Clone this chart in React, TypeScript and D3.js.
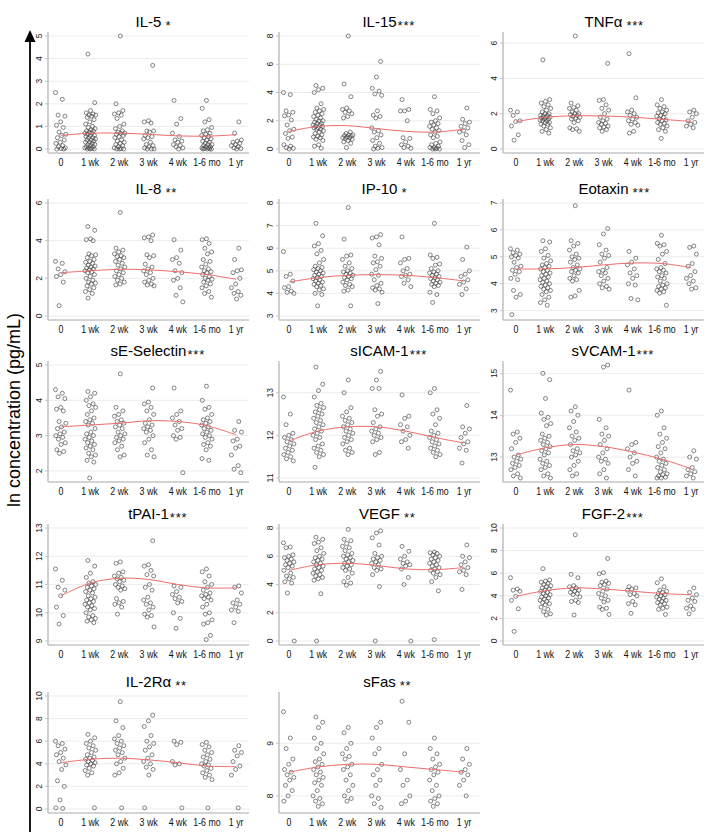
import React from 'react';
import * as d3 from 'd3';

const CATEGORIES = ["0", "1 wk", "2 wk", "3 wk", "4 wk", "1-6 mo", "1 yr"];
const NAMES = ["IL-5", "IL-15", "TNFα", "IL-8", "IP-10", "Eotaxin", "sE-Selectin", "sICAM-1", "sVCAM-1", "tPAI-1", "VEGF", "FGF-2", "IL-2Rα", "sFas"];
const STARS = ["*", "***", "***", "**", "*", "***", "***", "***", "***", "***", "**", "***", "**", "**"];
const STAR_GAP = [1, 0, 1, 1, 1, 1, 0, 0, 0, 0, 1, 0, 1, 1];
const Y_DOMAINS = [[0, 5], [0, 8], [0, 6.4], [0, 6], [3, 8], [2.8, 7], [1.8, 5], [11, 13.65], [12.5, 15.2], [9, 13], [0, 8], [0, 10], [0, 10], [7.75, 9.9]];
const Y_TICKS = [[0, 1, 2, 3, 4, 5], [0, 2, 4, 6, 8], [0, 2, 4, 6], [0, 2, 4, 6], [3, 4, 5, 6, 7, 8], [3, 4, 5, 6, 7], [2, 3, 4, 5], [11, 12, 13], [13, 14, 15], [9, 10, 11, 12, 13], [0, 2, 4, 6, 8], [0, 2, 4, 6, 8, 10], [0, 2, 4, 6, 8, 10], [8, 9]];

const il5 = [
  [2.5, 2.2, 1.5, 1.45, 1.2, 1.05, 0.95, 0.75, 0.65, 0.6, 0.5, 0.4, 0.3, 0.25, 0.15, 0.1, 0.05, 0.02, 0, 0],
  [4.2, 2.05, 1.7, 1.6, 1.55, 1.5, 1.5, 1.45, 1.4, 1.3, 1.2, 1.1, 1.0, 0.95, 0.9, 0.85, 0.8, 0.8, 0.75, 0.7, 0.7, 0.65, 0.6, 0.6, 0.55, 0.5, 0.5, 0.45, 0.4, 0.4, 0.35, 0.3, 0.3, 0.25, 0.2, 0.2, 0.15, 0.1, 0.1, 0.05, 0.05, 0.02, 0, 0, 0],
  [5.0, 2.0, 1.7, 1.6, 1.55, 1.5, 1.35, 1.1, 1.0, 0.9, 0.8, 0.75, 0.7, 0.7, 0.65, 0.6, 0.55, 0.5, 0.4, 0.35, 0.3, 0.25, 0.2, 0.15, 0.1, 0.05, 0.02, 0, 0, 0],
  [3.7, 1.25, 1.2, 1.15, 0.8, 0.8, 0.75, 0.6, 0.55, 0.5, 0.45, 0.3, 0.2, 0.15, 0.1, 0.05, 0, 0, 0],
  [2.15, 1.35, 1.1, 0.7, 0.55, 0.4, 0.35, 0.3, 0.2, 0.15, 0.1, 0.05, 0],
  [2.15, 1.8, 1.3, 1.2, 0.95, 0.85, 0.8, 0.7, 0.65, 0.6, 0.55, 0.5, 0.45, 0.4, 0.35, 0.3, 0.25, 0.2, 0.2, 0.15, 0.1, 0.1, 0.05, 0.05, 0.02, 0, 0, 0, 0],
  [1.2, 0.7, 0.4, 0.35, 0.3, 0.25, 0.2, 0.15, 0.1, 0.05, 0.02, 0],
];
const il5Fit = [0.6, 0.7, 0.7, 0.65, 0.58, 0.57, 0.63];

const il15 = [
  [4.0, 3.85, 2.7, 2.6, 2.4, 2.35, 2.05, 1.7, 1.4, 1.3, 1.1, 0.85, 0.75, 0.3, 0.2, 0.1, 0.05, 0],
  [4.5, 4.3, 4.2, 4.0, 3.2, 2.9, 2.8, 2.7, 2.6, 2.5, 2.4, 2.3, 2.2, 2.1, 2.0, 2.0, 1.9, 1.8, 1.8, 1.7, 1.7, 1.6, 1.6, 1.5, 1.5, 1.4, 1.4, 1.3, 1.2, 1.1, 1.0, 0.9, 0.85, 0.8, 0.7, 0.6, 0.3, 0.2, 0.05],
  [8.0, 4.6, 3.7, 2.9, 2.8, 2.7, 2.6, 2.5, 2.3, 2.2, 1.2, 1.1, 1.0, 1.0, 0.95, 0.9, 0.85, 0.8, 0.8, 0.75, 0.7, 0.6, 0.5, 0.4, 0.1],
  [6.2, 5.1, 4.3, 4.1, 3.9, 3.8, 2.7, 2.4, 2.3, 2.2, 1.5, 1.3, 1.2, 1.0, 0.8, 0.6, 0.4, 0.2, 0.1, 0.05, 0],
  [3.5, 2.8, 2.7, 2.7, 2.0, 0.8, 0.75, 0.5, 0.3, 0.2, 0.1, 0.05],
  [3.7, 2.8, 2.7, 2.5, 2.2, 2.0, 1.9, 1.8, 1.7, 1.6, 1.5, 1.4, 1.3, 1.2, 1.0, 0.9, 0.8, 0.5, 0.4, 0.3, 0.2, 0.1, 0.1, 0.05, 0, 0, 0],
  [2.9, 2.1, 1.9, 1.8, 1.6, 1.5, 1.3, 1.2, 1.0, 0.6, 0.3, 0.1],
];
const il15Fit = [1.25, 1.6, 1.65, 1.45, 1.25, 1.2, 1.4];

const tnfa = [
  [2.2, 2.1, 1.9, 1.6, 1.55, 1.3, 0.8, 0.5],
  [5.05, 2.8, 2.7, 2.6, 2.5, 2.4, 2.3, 2.2, 2.1, 2.0, 2.0, 1.9, 1.9, 1.85, 1.8, 1.8, 1.75, 1.7, 1.7, 1.65, 1.6, 1.6, 1.5, 1.5, 1.4, 1.4, 1.3, 1.2, 1.1, 1.0, 0.9],
  [6.4, 2.6, 2.45, 2.35, 2.3, 2.2, 2.1, 2.0, 2.0, 1.95, 1.9, 1.85, 1.8, 1.75, 1.7, 1.6, 1.5, 1.2, 1.15, 1.1, 1.0],
  [4.85, 2.8, 2.75, 2.5, 2.3, 2.2, 2.0, 1.8, 1.7, 1.6, 1.5, 1.45, 1.4, 1.3, 1.25, 1.2, 1.1, 1.0],
  [5.4, 2.9, 2.2, 2.1, 2.0, 1.9, 1.8, 1.7, 1.6, 1.5, 1.4, 1.35, 1.0, 0.9],
  [2.8, 2.5, 2.4, 2.3, 2.2, 2.1, 2.05, 2.0, 1.9, 1.85, 1.8, 1.7, 1.65, 1.6, 1.5, 1.45, 1.4, 1.3, 1.2, 1.1, 1.0, 0.6],
  [2.2, 2.1, 2.0, 1.8, 1.6, 1.5, 1.4, 1.3, 1.2],
];
const tnfaFit = [1.55, 1.8, 1.88, 1.87, 1.8, 1.68, 1.56];

const il8 = [
  [2.9, 2.8, 2.5, 2.35, 2.2, 2.1, 1.8, 0.55],
  [4.75, 4.55, 4.1, 4.05, 4.0, 3.3, 3.25, 3.2, 3.1, 3.0, 2.9, 2.85, 2.8, 2.7, 2.65, 2.6, 2.55, 2.5, 2.45, 2.4, 2.35, 2.3, 2.2, 2.1, 2.0, 1.9, 1.8, 1.75, 1.7, 1.6, 1.5, 1.4, 1.3, 1.2, 0.95],
  [5.5, 3.6, 3.5, 3.4, 3.3, 3.2, 3.15, 3.1, 3.0, 2.9, 2.8, 2.7, 2.6, 2.5, 2.4, 2.3, 2.2, 2.1, 2.0, 1.9, 1.8, 1.7, 1.65],
  [4.3, 4.2, 4.15, 4.0, 3.25, 3.2, 3.1, 2.75, 2.6, 2.5, 2.4, 2.3, 2.2, 2.0, 1.9, 1.8, 1.7, 1.65, 1.6],
  [4.05, 3.5, 3.1, 3.0, 2.8, 2.4, 2.3, 2.0, 1.9, 1.5, 1.1, 0.75],
  [4.1, 4.05, 3.85, 3.6, 3.4, 3.3, 3.0, 2.9, 2.75, 2.6, 2.5, 2.4, 2.35, 2.3, 2.2, 2.1, 2.0, 1.95, 1.9, 1.8, 1.7, 1.6, 1.5, 1.3, 1.2, 1.0],
  [3.6, 3.0, 2.45, 2.4, 2.3, 2.0, 1.7, 1.5, 1.3, 1.2, 1.1, 0.9],
];
const il8Fit = [2.3, 2.4, 2.48, 2.45, 2.35, 2.2, 1.95];

const ip10 = [
  [5.85, 4.85, 4.75, 4.55, 4.3, 4.25, 4.1, 4.05, 4.0],
  [7.1, 6.55, 6.2, 6.1, 5.9, 5.75, 5.5, 5.35, 5.2, 5.15, 5.1, 5.05, 5.0, 4.95, 4.9, 4.85, 4.8, 4.75, 4.7, 4.65, 4.6, 4.55, 4.5, 4.45, 4.4, 4.35, 4.3, 4.2, 4.15, 4.0, 3.95, 3.45],
  [7.8, 6.4, 5.7, 5.65, 5.5, 5.35, 5.2, 5.1, 5.0, 4.95, 4.9, 4.85, 4.8, 4.75, 4.7, 4.65, 4.6, 4.5, 4.4, 4.35, 4.3, 4.15, 4.1, 3.45],
  [6.6, 6.5, 6.45, 6.15, 5.65, 5.55, 5.4, 5.35, 5.2, 5.05, 4.85, 4.8, 4.6, 4.45, 4.35, 4.25, 4.2, 4.15, 4.05, 3.55],
  [6.5, 5.55, 5.5, 5.35, 5.1, 5.0, 4.85, 4.8, 4.75, 4.6, 4.45, 4.3],
  [7.1, 5.7, 5.6, 5.55, 5.3, 5.25, 5.1, 5.0, 4.95, 4.9, 4.85, 4.8, 4.75, 4.7, 4.65, 4.6, 4.55, 4.5, 4.45, 4.4, 4.35, 4.3, 4.05, 3.95, 3.6],
  [6.05, 5.5, 5.0, 4.85, 4.75, 4.6, 4.5, 4.4, 4.2, 3.95],
];
const ip10Fit = [4.5, 4.7, 4.8, 4.83, 4.8, 4.7, 4.55];

const eotaxin = [
  [5.3, 5.25, 5.15, 5.1, 5.05, 5.0, 4.95, 4.8, 4.65, 4.6, 4.5, 4.45, 4.35, 4.2, 4.15, 3.75, 3.6, 3.5, 2.85],
  [5.6, 5.55, 5.3, 5.2, 5.05, 4.95, 4.85, 4.75, 4.7, 4.65, 4.6, 4.55, 4.5, 4.45, 4.4, 4.35, 4.3, 4.25, 4.2, 4.15, 4.1, 4.05, 4.0, 3.95, 3.9, 3.85, 3.8, 3.75, 3.7, 3.6, 3.5, 3.4, 3.3, 3.2],
  [6.9, 5.6, 5.5, 5.4, 5.25, 5.1, 5.0, 4.95, 4.9, 4.8, 4.7, 4.6, 4.55, 4.5, 4.45, 4.4, 4.3, 4.2, 4.15, 4.1, 3.75, 3.55, 3.5],
  [6.05, 5.85, 5.45, 5.25, 5.1, 5.05, 4.95, 4.8, 4.6, 4.5, 4.45, 4.4, 4.3, 4.2, 4.1, 4.0, 3.9, 3.85, 3.8],
  [5.2, 4.95, 4.8, 4.7, 4.55, 4.4, 4.3, 4.2, 4.0, 3.95, 3.45, 3.4],
  [5.8, 5.5, 5.45, 5.4, 5.2, 5.1, 4.9, 4.75, 4.6, 4.55, 4.5, 4.45, 4.4, 4.3, 4.25, 4.2, 4.1, 4.0, 3.95, 3.9, 3.85, 3.8, 3.75, 3.7, 3.65, 3.2],
  [5.4, 5.35, 5.1, 4.75, 4.65, 4.45, 4.3, 4.2, 4.1, 4.0, 3.85, 3.8],
];
const eotaxinFit = [4.55, 4.55, 4.6, 4.7, 4.77, 4.75, 4.6];

const seSelectin = [
  [4.3, 4.2, 4.1, 4.05, 3.8, 3.75, 3.7, 3.4, 3.35, 3.25, 3.2, 3.1, 3.05, 3.0, 2.95, 2.9, 2.8, 2.75, 2.6, 2.55, 2.5],
  [4.25, 4.2, 4.1, 4.0, 3.9, 3.85, 3.8, 3.7, 3.6, 3.5, 3.45, 3.4, 3.35, 3.3, 3.2, 3.1, 3.05, 3.0, 2.95, 2.9, 2.85, 2.8, 2.75, 2.7, 2.65, 2.6, 2.5, 2.45, 2.4, 2.3, 2.25, 1.8],
  [4.75, 3.8, 3.7, 3.6, 3.55, 3.45, 3.4, 3.35, 3.3, 3.25, 3.2, 3.1, 3.05, 3.0, 2.95, 2.9, 2.85, 2.8, 2.7, 2.6, 2.45, 2.4],
  [4.35, 3.95, 3.9, 3.8, 3.7, 3.6, 3.45, 3.35, 3.3, 3.25, 3.2, 3.15, 3.1, 3.0, 2.9, 2.8, 2.6, 2.45, 2.4],
  [4.35, 3.7, 3.6, 3.5, 3.4, 3.3, 3.2, 3.15, 3.0, 2.95, 2.9, 1.95],
  [4.4, 4.0, 3.8, 3.75, 3.6, 3.5, 3.45, 3.4, 3.35, 3.3, 3.25, 3.2, 3.15, 3.1, 3.05, 3.0, 2.95, 2.9, 2.8, 2.75, 2.7, 2.6, 2.35, 2.3],
  [3.4, 3.15, 3.1, 2.9, 2.85, 2.7, 2.65, 2.45, 2.15, 2.05, 1.95],
];
const seSelectinFit = [3.25, 3.3, 3.35, 3.42, 3.4, 3.28, 3.02];

const sicam1 = [
  [12.9, 12.5, 12.25, 12.05, 12.0, 11.95, 11.9, 11.85, 11.8, 11.75, 11.7, 11.65, 11.6, 11.55, 11.5, 11.45, 11.4],
  [13.6, 13.2, 13.05, 12.9, 12.75, 12.7, 12.65, 12.6, 12.55, 12.5, 12.45, 12.4, 12.35, 12.3, 12.25, 12.2, 12.15, 12.1, 12.05, 12.0, 11.95, 11.9, 11.8, 11.75, 11.7, 11.65, 11.6, 11.55, 11.5, 11.25],
  [13.3, 13.0, 12.65, 12.55, 12.45, 12.4, 12.35, 12.3, 12.25, 12.2, 12.15, 12.1, 12.05, 12.0, 11.95, 11.9, 11.85, 11.8, 11.7, 11.65, 11.6, 11.55],
  [13.5, 13.3, 13.1, 13.1, 12.6, 12.5, 12.45, 12.3, 12.2, 12.15, 12.1, 12.05, 12.0, 11.95, 11.9, 11.85, 11.6, 11.55],
  [12.95, 12.45, 12.4, 12.25, 12.2, 12.1, 12.0, 11.9, 11.85, 11.7],
  [13.1, 13.0, 12.6, 12.5, 12.4, 12.25, 12.1, 12.05, 12.0, 11.95, 11.9, 11.85, 11.8, 11.75, 11.7, 11.65, 11.6, 11.55, 11.5],
  [12.7, 12.2, 12.15, 12.05, 11.95, 11.85, 11.8, 11.7, 11.65, 11.35],
];
const sicam1Fit = [11.87, 12.1, 12.2, 12.2, 12.1, 11.95, 11.82];

const svcam1 = [
  [14.6, 13.6, 13.55, 13.45, 13.35, 13.2, 13.05, 13.0, 12.95, 12.9, 12.85, 12.8, 12.75, 12.7, 12.6, 12.55, 12.5],
  [15.0, 14.85, 14.4, 14.05, 13.95, 13.9, 13.8, 13.75, 13.55, 13.5, 13.45, 13.4, 13.35, 13.3, 13.25, 13.2, 13.15, 13.1, 13.05, 12.95, 12.9, 12.85, 12.8, 12.75, 12.7, 12.6, 12.55, 12.5],
  [14.2, 14.1, 14.0, 13.85, 13.7, 13.6, 13.5, 13.45, 13.4, 13.3, 13.2, 13.15, 13.1, 13.05, 13.0, 12.9, 12.8, 12.7, 12.6, 12.55],
  [15.2, 15.15, 13.9, 13.7, 13.55, 13.5, 13.4, 13.3, 13.2, 13.1, 13.0, 12.95, 12.9, 12.85, 12.7, 12.6, 12.5],
  [14.6, 13.35, 13.3, 13.2, 13.1, 13.0, 12.9, 12.85, 12.7, 12.55],
  [14.1, 14.0, 13.7, 13.55, 13.45, 13.35, 13.25, 13.2, 13.1, 13.0, 12.95, 12.9, 12.85, 12.8, 12.75, 12.7, 12.65, 12.6, 12.58, 12.55, 12.52, 12.5, 12.5],
  [13.15, 13.0, 12.95, 12.75, 12.7, 12.65, 12.6, 12.55, 12.5],
];
const svcam1Fit = [13.05, 13.22, 13.3, 13.25, 13.12, 12.95, 12.72];

const tpai1 = [
  [11.55, 11.15, 10.9, 10.8, 10.6, 10.2, 9.9, 9.6],
  [11.85, 11.65, 11.4, 11.25, 11.1, 11.05, 11.0, 10.95, 10.9, 10.85, 10.8, 10.75, 10.7, 10.6, 10.55, 10.5, 10.45, 10.4, 10.35, 10.3, 10.25, 10.2, 10.15, 10.1, 10.0, 9.9, 9.85, 9.8, 9.75, 9.7, 9.65],
  [11.8, 11.75, 11.45, 11.4, 11.3, 11.25, 11.2, 11.15, 11.1, 11.0, 10.95, 10.9, 10.85, 10.8, 10.5, 10.4, 10.35, 10.3, 10.2, 9.95],
  [12.55, 11.7, 11.65, 11.5, 11.35, 11.3, 11.0, 10.9, 10.8, 10.55, 10.45, 10.35, 10.3, 10.2, 10.1, 9.95, 9.9, 9.85, 9.5],
  [10.95, 10.9, 10.75, 10.65, 10.55, 10.5, 10.4, 10.35, 10.0, 9.8, 9.45],
  [11.55, 11.45, 11.3, 11.1, 11.0, 10.9, 10.8, 10.7, 10.65, 10.6, 10.55, 10.5, 10.45, 10.3, 10.2, 10.0, 9.95, 9.75, 9.65, 9.6, 9.2, 9.05],
  [10.95, 10.9, 10.7, 10.45, 10.35, 10.3, 10.2, 10.1, 10.05, 9.65],
];
const tpai1Fit = [10.6, 11.05, 11.22, 11.18, 11.0, 10.88, 10.88];

const vegf = [
  [6.95, 6.65, 6.6, 6.1, 6.0, 5.9, 5.8, 5.7, 5.6, 5.5, 5.4, 5.3, 5.2, 5.0, 4.8, 4.6, 4.5, 4.4, 4.2, 4.1, 3.4, 0.0],
  [7.35, 7.2, 7.0, 6.9, 6.6, 6.4, 6.2, 6.0, 5.9, 5.8, 5.7, 5.6, 5.5, 5.4, 5.3, 5.2, 5.1, 5.0, 4.9, 4.8, 4.7, 4.6, 4.5, 4.4, 4.3, 3.35, 0.0],
  [7.9, 7.2, 7.1, 6.9, 6.7, 6.6, 6.4, 6.2, 6.1, 6.0, 5.9, 5.8, 5.7, 5.6, 5.5, 5.4, 5.3, 5.2, 5.1, 5.0, 4.8, 4.5, 4.2, 4.1, 3.95],
  [7.8, 7.65, 7.3, 6.8, 6.2, 6.0, 5.9, 5.8, 5.7, 5.6, 5.5, 5.4, 5.2, 5.1, 5.0, 4.7, 3.85, 0.0],
  [6.7, 6.35, 6.0, 5.8, 5.6, 5.5, 5.4, 5.3, 5.1, 4.5, 4.0, 0.0],
  [6.3, 6.25, 6.2, 6.1, 6.0, 5.9, 5.8, 5.7, 5.6, 5.5, 5.4, 5.3, 5.2, 5.1, 5.0, 4.9, 4.8, 4.7, 4.5, 4.2, 3.55, 0.1],
  [6.8, 6.0, 5.9, 5.6, 5.4, 5.2, 5.0, 4.9, 4.7, 3.65],
];
const vegfFit = [5.0, 5.4, 5.5, 5.35, 5.1, 5.05, 5.2];

const fgf2 = [
  [5.6, 4.6, 4.5, 4.4, 3.95, 3.6, 2.85, 0.85],
  [6.4, 5.4, 5.3, 5.2, 5.1, 5.0, 4.9, 4.8, 4.7, 4.6, 4.5, 4.4, 4.3, 4.2, 4.1, 4.0, 3.9, 3.8, 3.7, 3.6, 3.5, 3.4, 3.3, 3.2, 3.0, 2.8, 2.6, 2.4, 2.3],
  [9.4, 5.9, 5.6, 4.9, 4.8, 4.7, 4.6, 4.5, 4.4, 4.3, 4.2, 4.1, 3.9, 3.6, 3.5, 3.4, 2.3],
  [7.3, 6.05, 5.95, 5.3, 5.2, 5.1, 5.0, 4.9, 4.6, 4.4, 4.2, 4.0, 3.8, 3.6, 3.45, 3.0, 2.9, 2.8, 2.35],
  [4.8, 4.7, 4.6, 4.5, 4.2, 4.1, 4.0, 3.5, 3.3, 3.2, 2.45],
  [5.5, 5.15, 4.8, 4.5, 4.4, 4.3, 4.2, 4.1, 4.0, 3.9, 3.8, 3.7, 3.6, 3.5, 3.4, 3.3, 3.2, 3.0, 2.9, 2.8, 2.35],
  [4.7, 4.3, 4.1, 3.8, 3.6, 3.5, 3.1, 2.9, 2.8, 2.4],
];
const fgf2Fit = [3.95, 4.45, 4.7, 4.6, 4.4, 4.2, 4.1];

const il2ra = [
  [6.0, 5.8, 5.6, 5.3, 5.0, 4.8, 4.5, 4.2, 3.9, 3.5, 2.5, 2.0, 0.8, 0.1, 0.05],
  [6.6, 6.3, 6.0, 5.8, 5.6, 5.4, 5.2, 5.0, 4.8, 4.6, 4.5, 4.4, 4.3, 4.2, 4.1, 4.0, 3.9, 3.8, 3.6, 3.4, 3.2, 3.0, 0.1],
  [9.5, 7.8, 7.2, 6.5, 6.2, 6.0, 5.8, 5.6, 5.4, 5.2, 5.0, 4.8, 4.5, 4.2, 4.0, 3.6, 3.2, 3.0, 0.1],
  [8.3, 7.8, 7.3, 6.5, 6.0, 5.8, 5.5, 5.2, 4.8, 4.5, 4.2, 4.0, 3.7, 3.5, 3.0, 0.1],
  [6.0, 5.9, 5.7, 4.2, 4.0, 3.9, 0.1],
  [5.9, 5.7, 5.5, 5.2, 5.0, 4.8, 4.6, 4.4, 4.2, 4.0, 3.9, 3.8, 3.6, 3.4, 3.2, 3.0, 2.8, 2.6, 0.1],
  [5.6, 5.2, 5.0, 4.7, 4.2, 3.8, 3.5, 3.0, 0.1],
];
const il2raFit = [4.1, 4.4, 4.5, 4.35, 4.1, 3.8, 3.75];

const sfas = [
  [9.6, 9.1, 8.9, 8.7, 8.6, 8.5, 8.45, 8.4, 8.35, 8.3, 8.2, 8.1, 8.0, 7.9],
  [9.5, 9.4, 9.3, 9.1, 9.0, 8.9, 8.8, 8.7, 8.65, 8.6, 8.55, 8.5, 8.45, 8.4, 8.35, 8.3, 8.25, 8.2, 8.1, 8.0, 7.95, 7.9, 7.85, 7.8],
  [9.3, 9.2, 9.0, 8.9, 8.8, 8.75, 8.7, 8.6, 8.55, 8.5, 8.4, 8.3, 8.2, 8.1, 8.0, 7.95, 7.9],
  [9.4, 9.3, 9.1, 8.9, 8.8, 8.6, 8.5, 8.4, 8.3, 8.2, 8.0, 7.95, 7.85, 7.78],
  [9.8, 9.4, 8.8, 8.5, 8.3, 8.2, 8.0, 7.9, 7.85],
  [9.1, 8.9, 8.8, 8.7, 8.6, 8.55, 8.5, 8.45, 8.4, 8.3, 8.2, 8.1, 8.0, 7.95, 7.9, 7.85, 7.8],
  [8.9, 8.7, 8.6, 8.5, 8.45, 8.4, 8.3, 8.2, 8.0],
];
const sfasFit = [8.45, 8.55, 8.6, 8.6, 8.55, 8.5, 8.45];

const SERIES = [il5, il15, tnfa, il8, ip10, eotaxin, seSelectin, sicam1, svcam1, tpai1, vegf, fgf2, il2ra, sfas];
const FITS = [il5Fit, il15Fit, tnfaFit, il8Fit, ip10Fit, eotaxinFit, seSelectinFit, sicam1Fit, svcam1Fit, tpai1Fit, vegfFit, fgf2Fit, il2raFit, sfasFit];

// layout
const W = 720, H = 838;
const COL_AXIS = [48, 279, 503];
const COL_FIRST = [61, 289, 516];
const COL_RIGHT = [249, 480, 704];
const ROW_TOP = [36, 203, 365, 528, 696];
const CAT_STEP = 29.2;
const PLOT_H = 113;

let _ctx: CanvasRenderingContext2D | null = null;
function measure(txt: string, font: string) {
  if (!_ctx) _ctx = document.createElement('canvas').getContext('2d');
  if (!_ctx) return txt.length * 8;
  _ctx.font = font;
  return _ctx.measureText(txt).width;
}

const TITLE_FONT = "Liberation Sans, Arial, sans-serif";

function Panel({ p }: { p: number }) {
  const row = Math.floor(p / 3), col = p % 3;
  const T = ROW_TOP[row];
  const ax = COL_AXIS[col];
  const right = COL_RIGHT[col];
  const x = d3.scalePoint<string>().domain(CATEGORIES)
    .range([COL_FIRST[col], COL_FIRST[col] + CAT_STEP * 6]);
  const y = d3.scaleLinear().domain(Y_DOMAINS[p]).range([T + PLOT_H, T]);
  const axisY = T + 117;
  const line = d3.line<number>()
    .x((_, i) => x(CATEGORIES[i]) as number)
    .y(d => y(d))
    .curve(d3.curveCatmullRom.alpha(0.5));
  const center = (ax + right) / 2;
  const tw = measure(NAMES[p], `15px ${TITLE_FONT}`);
  const starX = center + tw / 2 + (STAR_GAP[p] ? 4 : 1);
  return (
    <g>
      {Y_TICKS[p].map(t => (
        <line key={'g' + t} x1={ax} x2={right} y1={y(t)} y2={y(t)} stroke="#ececec" strokeWidth={1} />
      ))}
      <line x1={ax} x2={ax} y1={T - 4} y2={axisY} stroke="#c4c4c4" strokeWidth={1.6} />
      <line x1={ax} x2={right} y1={axisY} y2={axisY} stroke="#c4c4c4" strokeWidth={1.6} />
      {Y_TICKS[p].map(t => (
        <g key={'t' + t}>
          <line x1={ax - 3} x2={ax} y1={y(t)} y2={y(t)} stroke="#c4c4c4" strokeWidth={1} />
          <text transform={`translate(${ax - 6},${y(t)}) rotate(-90)`} textAnchor="middle"
            fontFamily={TITLE_FONT} fontSize={8.5} fill="#222">{t}</text>
        </g>
      ))}
      {CATEGORIES.map(c => (
        <text key={'c' + c} transform={`translate(${x(c)},${axisY + 13}) scale(0.84,1)`} textAnchor="middle"
          fontFamily={TITLE_FONT} fontSize={10.5} fill="#111">{c}</text>
      ))}
      {SERIES[p].map((vals, g) => vals.map((v, i) => {
        const j = ((i * 0.6180339887 + g * 0.29) % 1 - 0.5) * 11;
        return <circle key={g + '-' + i} cx={(x(CATEGORIES[g]) as number) + j} cy={y(v)} r={2}
          fill="none" stroke="#444" strokeWidth={0.65} />;
      }))}
      <path d={line(FITS[p]) || ''} fill="none" stroke="#ef6b6b" strokeWidth={1} />
      <text x={center} y={T - 9} textAnchor="middle" fontFamily={TITLE_FONT} fontSize={15} fill="#000">{NAMES[p]}</text>
      <text x={starX} y={T - 6} fontFamily={TITLE_FONT} fontSize={13} letterSpacing={0.8} fill="#111">{STARS[p]}</text>
    </g>
  );
}

export default function App() {
  return (
    <svg width={W} height={H} style={{ position: 'absolute', left: 0, top: 0, background: '#fff' }}>
      <rect x={0} y={0} width={W} height={H} fill="#fff" />
      <line x1={30} x2={30} y1={40} y2={832} stroke="#000" strokeWidth={1.8} />
      <path d="M30,30 L35.5,42 L24.5,42 Z" fill="#000" />
      <text transform="translate(20,410) rotate(-90)" textAnchor="middle" fontFamily={TITLE_FONT}
        fontSize={18} fill="#000">ln concentration (pg/mL)</text>
      {NAMES.map((_, p) => <Panel key={p} p={p} />)}
    </svg>
  );
}
